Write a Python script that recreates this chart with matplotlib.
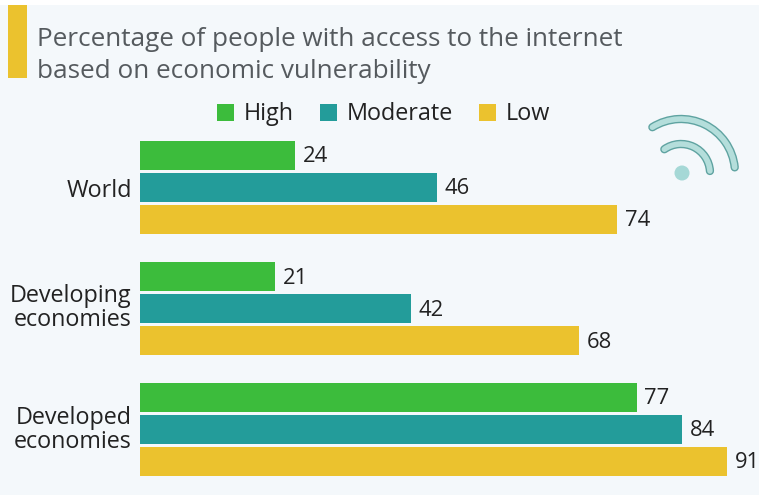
import matplotlib.pyplot as plt
from matplotlib.patches import Arc, Circle, Rectangle

plt.rcParams['font.family'] = ['Open Sans', 'DejaVu Sans']

groups = ["World", "Developing\neconomies", "Developed\neconomies"]
high = [24, 21, 77]
moderate = [46, 42, 84]
low = [74, 68, 91]
series_names = ["High", "Moderate", "Low"]
colors = ["#3cbc3c", "#239c9a", "#ebc22e"]

W, H = 759, 495
fig = plt.figure(figsize=(W / 100, H / 100), dpi=100, facecolor="#f4f8fb")

# bars live in pixel-aligned axes: x from 140px, one unit about 6.45px
ax = fig.add_axes([140 / W, 0, (W - 140) / W, (H - 130) / H])
ax.set_facecolor("none")
ax.set_xlim(0, (W - 140) / 6.45)
ax.set_ylim(365, 0)

centers = [57.2, 178.5, 299]
offset = 32
bar_h = 29
for k, (vals, col) in enumerate(zip([high, moderate, low], colors)):
    ys = [c + (k - 1) * offset for c in centers]
    ax.barh(ys, vals, height=bar_h, color=col)
    for y, v in zip(ys, vals):
        ax.text(v + 1.2, y + 1.5, str(v), va="center", ha="left", fontsize=15.8, color="#222222")

# group labels sit slightly off the bar centres
ax.set_yticks([58, 175.5, 297])
ax.set_yticklabels(groups, fontsize=16.8, color="#222222", linespacing=1.0)
ax.tick_params(axis="y", length=0, pad=6)
ax.xaxis.set_visible(False)
for s in ax.spines.values():
    s.set_visible(False)

# overlay in pixel coordinates for title block, legend and wifi icon
ov = fig.add_axes([0, 0, 1, 1])
ov.set_xlim(0, W)
ov.set_ylim(H, 0)
ov.axis("off")
ov.patch.set_alpha(0)

ov.add_patch(Rectangle((0, 0), W, 5, color="white", lw=0))
ov.add_patch(Rectangle((8, 5), 19, 73, color="#ebc22e", lw=0))
ov.text(37, 39, "Percentage of people with access to the internet", fontsize=18.8,
        color="#555a5e", va="center")
ov.text(37, 71, "based on economic vulnerability", fontsize=18.8, color="#555a5e", va="center")

legend_x = [217, 320, 479]
for x, name, col in zip(legend_x, series_names, colors):
    ov.add_patch(Rectangle((x, 104), 17, 17, color=col, lw=0))
    ov.text(x + 27, 114, name, fontsize=16.8, color="#222222", va="center")

# wifi icon: dark tube with a lighter core
for r, t1, t2 in [(54, -122, -6), (29, -125, -4)]:
    ov.add_patch(Arc((681, 173), 2 * r, 2 * r, theta1=t1, theta2=t2,
                     color="#5fa3a1", lw=6, capstyle="round"))
    ov.add_patch(Arc((681, 173), 2 * r, 2 * r, theta1=t1, theta2=t2,
                     color="#b4dedb", lw=4, capstyle="round"))
ov.add_patch(Circle((682, 173), 7.5, color="#a5d8d6", lw=0))

fig.savefig("out.png", dpi=100, facecolor=fig.get_facecolor())
